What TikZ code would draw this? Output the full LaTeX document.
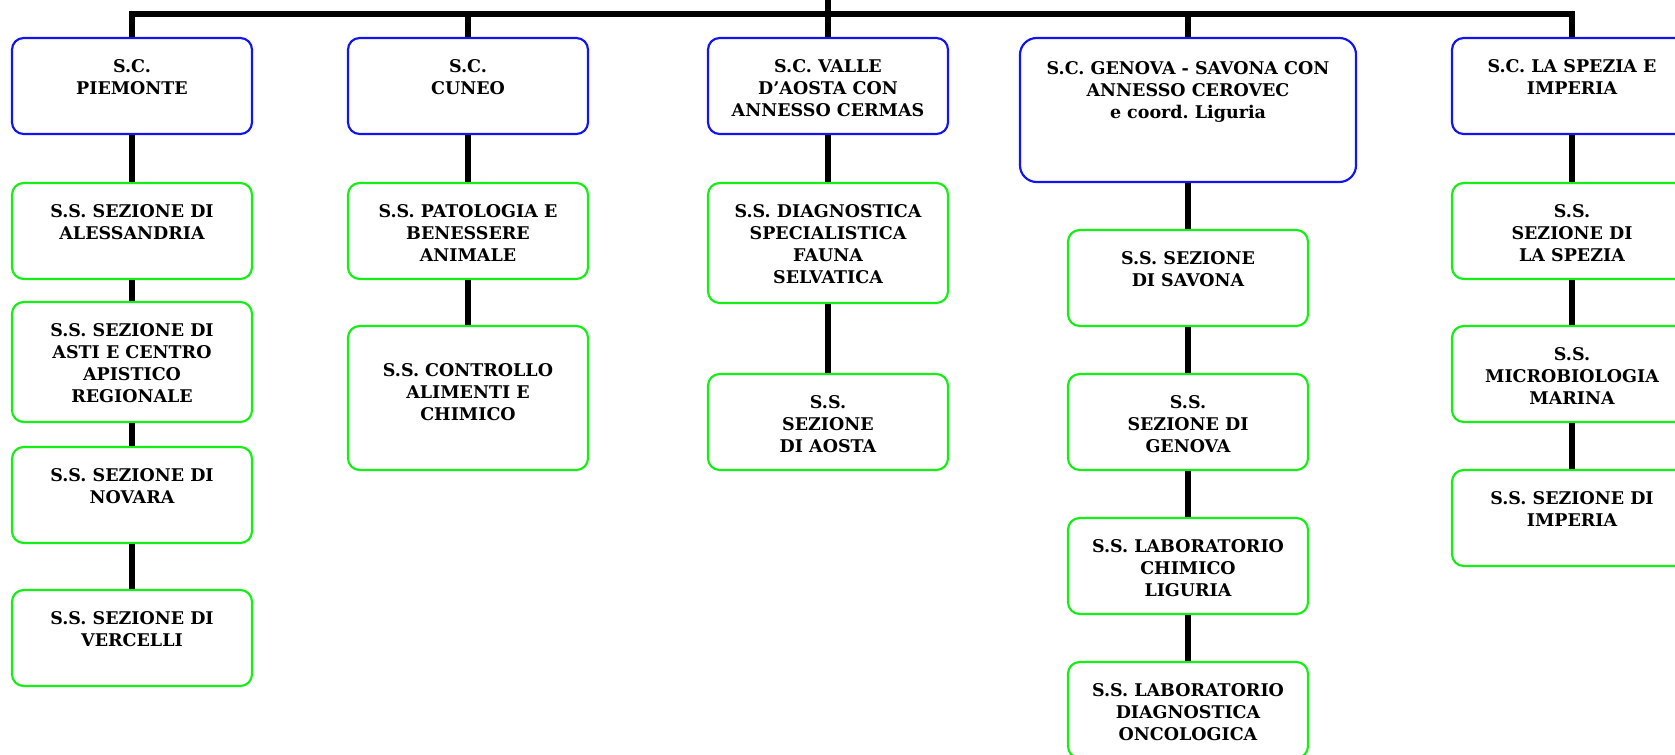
\documentclass[tikz,border=0pt]{standalone}
\usepackage{fontspec}
\setmainfont{DejaVu Serif}
\frenchspacing
\definecolor{scblue}{RGB}{20,20,240}
\definecolor{ssgreen}{RGB}{20,240,20}
\tikzset{
  sc/.style={draw=scblue, line width=1.3pt, rounded corners=7pt, inner sep=0pt,
    font=\bfseries\fontsize{10.5}{13.2}\selectfont},
  ss/.style={sc, draw=ssgreen},
  link/.style={line width=3.4pt},
}
\newcommand{\unitbox}[2][57.6pt]{\parbox[c][#1][t]{144pt}{\centering\vspace*{12.8pt}#2}}
\begin{document}
\begin{tikzpicture}[x=0.6pt, y=-0.6pt]
\useasboundingbox (0,0) rectangle (1675,755);
% strutture complesse
\node[sc] (pie) at (132,86) {\unitbox{S.C.\\PIEMONTE}};
\node[sc] (cun) at (468,86) {\unitbox{S.C.\\CUNEO}};
\node[sc] (vda) at (828,86) {\unitbox{S.C. VALLE\\D’AOSTA CON\\ANNESSO CERMAS}};
\node[sc, rounded corners=10pt] (gen) at (1188,110)
  {\parbox[c][86.4pt][t]{201.6pt}{\centering\vspace*{14pt}S.C. GENOVA - SAVONA CON\\ANNESSO CEROVEC\\e coord. Liguria}};
\node[sc] (spe) at (1572,86) {\unitbox{S.C. LA SPEZIA E\\IMPERIA}};
% strutture semplici
\node[ss] (ale) at (132,231) {\unitbox{S.S. SEZIONE DI\\ALESSANDRIA}};
\node[ss] (ast) at (132,362) {\unitbox[72pt]{S.S. SEZIONE DI\\ASTI E CENTRO\\APISTICO\\REGIONALE}};
\node[ss] (nov) at (132,495) {\unitbox{S.S. SEZIONE DI\\NOVARA}};
\node[ss] (ver) at (132,638) {\unitbox{S.S. SEZIONE DI\\VERCELLI}};
\node[ss] (pat) at (468,231) {\unitbox{S.S. PATOLOGIA E\\BENESSERE\\ANIMALE}};
\node[ss] (con) at (468,398) {\unitbox[86.4pt]{\vspace*{9.5pt}S.S. CONTROLLO\\ALIMENTI E\\CHIMICO}};
\node[ss] (dia) at (828,243) {\unitbox[72pt]{S.S. DIAGNOSTICA\\SPECIALISTICA\\FAUNA\\SELVATICA}};
\node[ss] (aos) at (828,422) {\unitbox{S.S.\\SEZIONE\\DI AOSTA}};
\node[ss] (sav) at (1188,278) {\unitbox{S.S. SEZIONE\\DI SAVONA}};
\node[ss] (sge) at (1188,422) {\unitbox{S.S.\\SEZIONE DI\\GENOVA}};
\node[ss] (chi) at (1188,566) {\unitbox{S.S. LABORATORIO\\CHIMICO\\LIGURIA}};
\node[ss] (onc) at (1188,710) {\unitbox{S.S. LABORATORIO\\DIAGNOSTICA\\ONCOLOGICA}};
\node[ss] (lsp) at (1572,231) {\unitbox{S.S.\\SEZIONE DI\\LA SPEZIA}};
\node[ss] (mic) at (1572,374) {\unitbox{S.S.\\MICROBIOLOGIA\\MARINA}};
\node[ss] (imp) at (1572,518) {\unitbox{S.S. SEZIONE DI\\IMPERIA}};
% collegamenti
\coordinate (root) at (828,0);
\coordinate (bar) at (828,14);
\draw[link] (root) -- (bar);
\draw[link] (pie.north) |- (bar) -| (spe.north);
\foreach \n in {cun,vda,gen}
  \draw[link] (\n.north) -- (\n.north |- bar);
\draw[link] (pie) -- (ale) -- (ast) -- (nov) -- (ver);
\draw[link] (cun) -- (pat) -- (con);
\draw[link] (vda) -- (dia) -- (aos);
\draw[link] (gen) -- (sav) -- (sge) -- (chi) -- (onc);
\draw[link] (spe) -- (lsp) -- (mic) -- (imp);
\end{tikzpicture}
\end{document}
